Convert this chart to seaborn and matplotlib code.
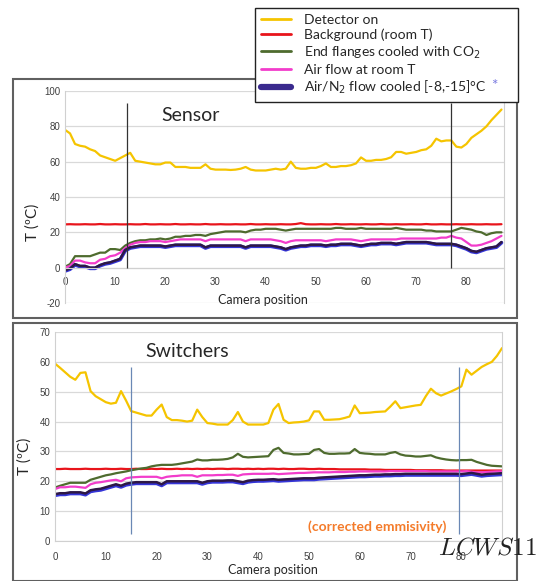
import numpy as np
import pandas as pd
import seaborn as sns
import matplotlib.pyplot as plt
from matplotlib.lines import Line2D
from matplotlib.patches import Rectangle

# ---- data ----
# Sensor panel (camera positions 0..87)
sens_x = list(range(88))
sens_detector = [78, 76, 70, 69, 68.5, 67, 66, 63.5, 62.5, 61.5, 60.5, 62, 63.5, 65, 60.5, 60, 59.5, 59, 58.5, 58.5,
                 59.5, 59.5, 57, 57, 57, 56.5, 56.5, 56.5, 58.5, 56, 55.5, 55.5, 55.5, 55.3, 55.5, 56, 57, 55.5, 55, 55,
                 55, 55.5, 56, 55.5, 56, 60, 56.5, 56, 56, 56.5, 56.5, 57.5, 59, 57, 57, 57.5, 57.5, 58, 59, 62.4,
                 60.5, 60.5, 61, 61, 61.5, 62.5, 65.5, 65.5, 64.5, 65, 65.5, 66.5, 67, 69, 73, 71.5, 72, 72, 68.5, 68,
                 70, 73.5, 75.5, 77.5, 80, 83.5, 86.5, 89.5]
sens_background = [24.5, 24.6, 24.5, 24.5, 24.6, 24.5, 24.5, 24.7, 24.5, 24.5, 24.6, 24.5, 24.5, 24.6, 24.5, 24.5,
                   24.7, 24.5, 24.5, 24.6, 24.5, 24.5, 24.7, 24.5, 24.5, 24.6, 24.5, 24.5, 24.7, 24.5, 24.5, 24.6,
                   24.5, 24.5, 24.6, 24.5, 24.5, 24.7, 24.5, 24.5, 24.6, 24.5, 24.5, 24.6, 24.5, 24.5, 24.7, 25.2,
                   24.6, 24.5, 24.5, 24.6, 24.5, 24.5, 24.7, 24.5, 24.5, 24.6, 24.5, 24.5, 24.6, 24.5, 24.5, 24.7,
                   24.5, 24.5, 24.6, 24.5, 24.5, 24.6, 24.5, 24.5, 24.7, 24.5, 24.5, 24.6, 24.5, 24.5, 24.6, 24.5,
                   24.5, 24.6, 24.5, 24.5, 24.6, 24.5, 24.5, 24.6]
sens_flanges = [0.5, 2, 6.5, 6.5, 6.5, 6.5, 7.5, 8.5, 8.5, 10.5, 10.5, 10, 12.5, 14, 15, 15.5, 15.5, 16, 16, 16.5,
                16, 16.5, 17.5, 17.5, 18, 18, 18.5, 18.5, 18, 19, 19.5, 20, 20.5, 20.5, 20.5, 20.5, 20, 21, 21.5,
                21.5, 22, 22, 22, 21.5, 21, 21.5, 22, 22, 22, 22, 22, 22, 22, 22, 22.5, 22.5, 22, 22, 22, 22.5,
                22, 22, 22, 22, 22, 22, 22.5, 22, 21.5, 21.5, 21.5, 21.5, 21, 21, 20.5, 20.5, 20.5, 20.5, 21.5,
                22.5, 22, 21.5, 20.5, 20, 18.5, 19.5, 20, 20]
sens_airflow = [0, 1, 4, 4, 3, 2.5, 2.5, 4.5, 5, 6.5, 7, 8.5, 11, 13, 14, 14.5, 14.5, 15, 15, 15, 14.5, 15, 15.5, 16,
                16, 16, 16, 16, 15, 16, 16, 16, 16, 16, 16, 16, 15, 16, 16, 16, 16, 16, 15.5, 15, 14, 15, 15.5, 15.5,
                15.5, 15.5, 15.5, 15.5, 15, 15.5, 16, 16, 16, 16, 15.5, 15, 15.5, 16, 16, 16, 16, 16, 16, 16.5, 16.5,
                16.5, 16.5, 16.5, 16.5, 16.5, 16.5, 17, 17, 18, 17, 16.5, 14.5, 12.5, 12.5, 13, 14, 15, 16.5, 18]
sens_cooled = [-1.5, -0.5, 2, 1, 1, 0, 0, 1.5, 2.5, 3, 4, 5, 10, 11.5, 12, 12.5, 12.5, 12.5, 12.5, 12.5, 12, 12.5,
               13, 13, 13, 13, 13, 13, 11.5, 12.5, 12.5, 12.5, 12.5, 12.5, 12.5, 12.5, 11.5, 12.5, 12.5, 12.5, 12.5,
               12.5, 12, 11.5, 10.5, 11.5, 12, 12.5, 12.5, 13, 13, 13, 12.5, 13, 13, 13.5, 13.5, 13.5, 13, 12.5, 13,
               13.5, 13.5, 14, 14, 14, 13.5, 14, 14.5, 14.5, 14.5, 14.5, 14.5, 14, 13.5, 13.5, 13.5, 13.5, 13, 12,
               11, 9.5, 9, 10, 11, 11.5, 12, 14.5]

# Switchers panel (camera positions 0..88)
sw_x = list(range(89))
sw_detector = [59.4, 58, 56.5, 55, 54, 56.3, 56.5, 50.2, 48.5, 47.5, 46.5, 46, 46.3, 50.2, 47, 43.5, 43, 42.5, 42,
               42, 44, 45.7, 41.5, 40.5, 40.5, 40.3, 40, 40.3, 44, 41.5, 39.5, 39.3, 39, 39, 39, 40.5, 43.2, 40, 39,
               39, 39, 39, 39.5, 44, 45.9, 40.6, 39.5, 39.7, 39.8, 40, 40.4, 43.4, 43.4, 40.6, 40.6, 40.7, 40.8,
               41.2, 41.7, 45.4, 42.8, 42.9, 43, 43.2, 43.3, 43.4, 45, 46.8, 44.5, 44.8, 45.1, 45.4, 45.6, 48.5, 51,
               49.5, 48.7, 49.4, 50.1, 50.9, 51.8, 57.4, 55.7, 57, 58.3, 59.2, 60, 62, 64.6]
sw_background = [24.1, 24.1, 24.2, 24.1, 24.1, 24.1, 24.2, 24.1, 24.1, 24.1, 24.2, 24.1, 24.1, 24.2, 24.1, 24.1,
                 24.2, 24.1, 24.1, 24.2, 24.1, 24.2, 24.1, 24.1, 24.2, 24.1, 24.2, 24.1, 24.2, 24.1, 24.2, 24.1, 24.2,
                 24.2, 24.1, 24.2, 24.2, 24.1, 24.2, 24.1, 24.2, 24.1, 24.2, 24.2, 24.1, 24.2, 24.1, 24.1, 24.2,
                 24.2, 24.1, 24.1, 24.2, 24.1, 24.1, 24.1, 24.0, 24.0, 24.0, 24.0, 24.0, 24.0, 23.9, 23.9, 23.9,
                 23.8, 23.8, 23.8, 23.8, 23.8, 23.8, 23.7, 23.7, 23.7, 23.7, 23.7, 23.7, 23.6, 23.6, 23.6, 23.6,
                 23.6, 23.6, 23.6, 23.6, 23.6, 23.6, 23.6, 23.6]
sw_flanges = [17.9, 18.5, 19, 19.5, 19.5, 19.5, 19.5, 20.5, 21, 21.5, 22, 22.3, 22.7, 23, 23.3, 23.7, 24, 24.3,
              24.5, 25, 25.3, 25.5, 25.5, 25.5, 25.7, 26, 26.3, 26.6, 27.3, 27, 27, 27.2, 27.2, 27.3, 27.5, 28, 29.2,
              28.2, 28, 28.1, 28.2, 28.3, 28.4, 30.5, 31.2, 29.5, 29.3, 29, 29, 29.1, 29.2, 30.5, 30.8, 29.5, 29.2,
              29.2, 29.3, 29.3, 29.4, 30.8, 29.5, 29.3, 29.2, 29, 29, 29, 29.5, 29.8, 29, 28.6, 28.5, 28.3, 28.3,
              28.5, 28.7, 28, 27.6, 27.3, 27.1, 27, 27.1, 27.1, 27.2, 26.5, 26, 25.5, 25.2, 25.1, 25]
sw_airflow = [17.4, 18, 18, 18.2, 18.2, 18, 17.8, 19, 19.5, 19.7, 20, 20.3, 20.5, 20, 21, 21.3, 21.4, 21.5, 21.5,
              21.5, 21.5, 21, 21.5, 21.7, 21.8, 22, 22, 22, 21.5, 22, 22, 22, 22.1, 22.1, 22.2, 22.2, 21.8, 22.3, 22.4,
              22.5, 22.5, 22.5, 22.5, 22.6, 22.4, 22.5, 22.6, 22.7, 22.8, 22.8, 22.9, 23, 23, 23, 23, 23.1, 23.1,
              23.1, 23.2, 23.2, 23.3, 23.3, 23.3, 23.3, 23.3, 23.3, 23.4, 23.4, 23.4, 23.4, 23.4, 23.4, 23.4, 23.4,
              23.3, 23.3, 23.3, 23.3, 23.3, 23.3, 23.3, 23.4, 23.2, 23, 23, 23.1, 23.2, 23.3, 23.3]
sw_cooled = [15.7, 16, 16, 16.3, 16.3, 16.3, 15.9, 17, 17.3, 17.5, 18, 18.5, 19, 18.5, 19.2, 19.5, 19.7, 19.7, 19.7,
             19.7, 19.7, 19, 20, 20, 20, 20, 20, 20, 20, 19.5, 20, 20.2, 20.2, 20.2, 20.3, 20.3, 20, 19.7, 20.2, 20.4,
             20.5, 20.5, 20.6, 20.7, 20.5, 20.6, 20.7, 20.8, 20.9, 21, 21, 21, 21.2, 21.3, 21.4, 21.5, 21.6, 21.7,
             21.8, 21.9, 22, 22, 22.1, 22.2, 22.2, 22.3, 22.3, 22.4, 22.4, 22.5, 22.5, 22.5, 22.5, 22.5, 22.5, 22.5,
             22.5, 22.5, 22.5, 22.5, 22.4, 22.6, 22.8, 22.5, 22.2, 22.4, 22.5, 22.6, 22.7]

# marker lines (camera positions)
sens_vlines = [12.3, 77]
sw_vlines = [15, 79.5]

labels = ['Detector on', 'Background (room T)', 'End flanges cooled with CO$_2$',
          'Air flow at room T', 'Air/N$_2$ flow cooled [-8,-15]°C']
colors = ['#F5C400', '#E8141B', '#4E6B2E', '#F23CCB', '#2E1845']

sns.set_style('white')
plt.rcParams['font.family'] = ['Lato', 'DejaVu Sans']
plt.rcParams['axes.unicode_minus'] = False

fig = plt.figure(figsize=(5.42, 5.81), dpi=100)
W, H = 542.0, 581.0


def px_axes(left, top, right, bottom):
    return fig.add_axes([left / W, 1 - bottom / H, (right - left) / W, (bottom - top) / H])


# frames around each panel
fig.add_artist(Rectangle((13 / W, 1 - 318 / H), 504 / W, 239 / H, transform=fig.transFigure,
                         fill=False, ec='#606060', lw=1.5))
fig.add_artist(Rectangle((13 / W, 0), 504 / W, 1 - 323 / H, transform=fig.transFigure,
                         fill=False, ec='#606060', lw=1.5))


def draw_panel(ax, x, series, vlines, vcolor, vrange):
    df = pd.DataFrame({'x': x})
    for name, vals in series.items():
        df[name] = vals
    sns.lineplot(data=df, x='x', y='det', color=colors[0], lw=1.6, ax=ax)
    sns.lineplot(data=df, x='x', y='bg', color=colors[1], lw=1.6, ax=ax)
    sns.lineplot(data=df, x='x', y='fl', color=colors[2], lw=1.6, ax=ax)
    sns.lineplot(data=df, x='x', y='air', color=colors[3], lw=1.6, ax=ax)
    df['blue'] = df['cool'] - 0.4
    sns.lineplot(data=df, x='x', y='blue', color='#3535D8', lw=2.6, ax=ax)
    sns.lineplot(data=df, x='x', y='cool', color=colors[4], lw=1.8, ax=ax)
    ax.vlines(vlines, vrange[0], vrange[1], color=vcolor, lw=0.9, zorder=5)
    ax.grid(axis='y', color='#D9D9D9', lw=0.9)
    ax.set_axisbelow(True)
    ax.spines['top'].set_visible(False)
    for s in ['left', 'right', 'bottom']:
        ax.spines[s].set_color('#D0D0D0')
    ax.spines['bottom'].set_position(('data', 0))
    ax.tick_params(length=0, labelsize=7, labelcolor='#404040')
    for t in ax.get_xticklabels() + ax.get_yticklabels():
        t.set_family('Liberation Sans')
    ax.set_xlabel('')
    ax.set_ylabel('')


# ---- Sensor ----
ax1 = px_axes(65, 91, 504, 303)
ax1.set_xticks(range(0, 90, 10))
ax1.set_yticks(range(-20, 101, 20))
draw_panel(ax1, sens_x, {'det': sens_detector, 'bg': sens_background, 'fl': sens_flanges,
                         'air': sens_airflow, 'cool': sens_cooled},
           sens_vlines, '#333333', (0, 93))
ax1.set_xlim(0, 87.5)
ax1.set_ylim(-20, 100)
ax1.tick_params(axis='x', pad=7)
ax1.text(25, 86, 'Sensor', fontsize=14, ha='center', va='center')
fig.text(263 / W, 1 - 300 / H, 'Camera position', fontsize=9, ha='center', va='center')
fig.text(33 / W, 1 - 222 / H, 'T (ºC)', fontsize=11, rotation=90, ha='center', va='center')

# ---- Switchers ----
ax2 = px_axes(55, 332, 502, 541)
ax2.set_xticks(range(0, 90, 10))
ax2.set_yticks(range(0, 71, 10))
draw_panel(ax2, sw_x, {'det': sw_detector, 'bg': sw_background, 'fl': sw_flanges,
                       'air': sw_airflow, 'cool': sw_cooled},
           sw_vlines, '#6A88B5', (2.5, 58.2))
ax2.set_xlim(0, 88)
ax2.set_ylim(0, 70)
ax2.tick_params(axis='x', pad=8)
ax2.text(26, 63.5, 'Switchers', fontsize=14, ha='center', va='center')
ax2.text(63.5, 4.7, '(corrected emmisivity)', fontsize=10, fontweight='bold', color='#F47B2A',
         ha='center', va='center')
fig.text(273 / W, 1 - 570 / H, 'Camera position', fontsize=9, ha='center', va='center')
fig.text(25 / W, 1 - 456 / H, 'T (ºC)', fontsize=11, rotation=90, ha='center', va='center')
fig.text(487 / W, 1 - 547 / H, '$LCWS11$', fontsize=18, ha='center', va='center', color='#222222',
         math_fontfamily='cm')

# ---- legend ----
handles = [Line2D([], [], color=c, lw=2) for c in colors[:4]]
handles.append(Line2D([], [], color='#3A2A8E', lw=4.5))
leg = fig.legend(handles, labels, loc='upper left',
                 bbox_to_anchor=(255 / W, 1 - 104 / H, 263 / W, 96 / H), mode='expand',
                 borderaxespad=0,
                 fontsize=10, frameon=True, fancybox=False, edgecolor='#222222',
                 handlelength=2.2, handletextpad=0.9, labelspacing=0.22, borderpad=0.4,
                 framealpha=1)
leg.get_frame().set_linewidth(1.0)
leg.set_zorder(10)
fig.text(494 / W, 1 - 86 / H, '*', fontsize=11, color='#7A7AE0', ha='center', va='center', zorder=11)

fig.savefig('out.png', dpi=100)
